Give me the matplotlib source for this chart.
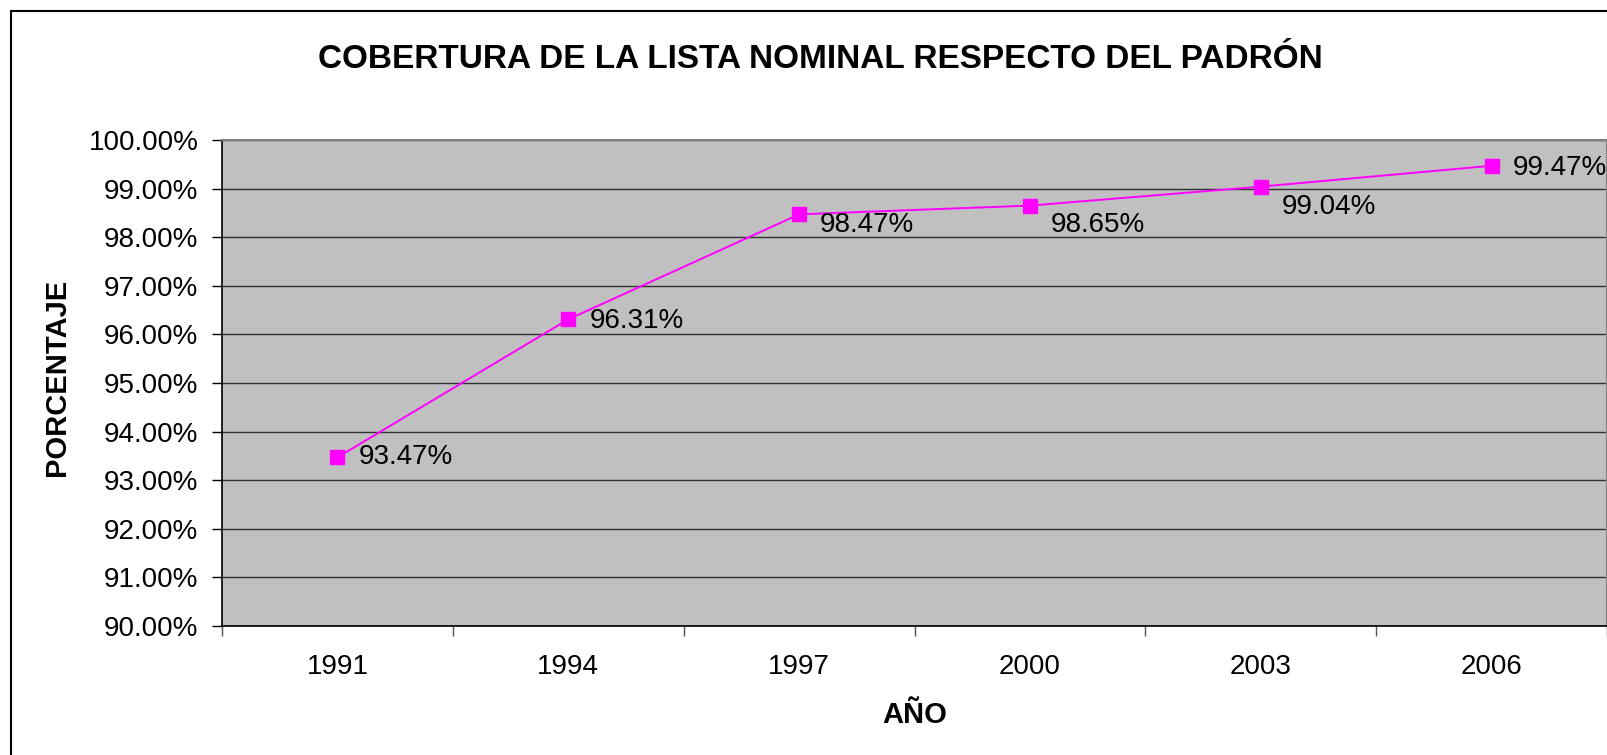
import matplotlib.pyplot as plt
from matplotlib.patches import Rectangle
from matplotlib.ticker import FixedLocator, FuncFormatter

plt.rcParams['font.family'] = ['Liberation Sans', 'DejaVu Sans']

# Data
years = ["1991", "1994", "1997", "2000", "2003", "2006"]
coverage = [93.47, 96.31, 98.47, 98.65, 99.04, 99.47]
# label offsets from marker (pixels, right / down)
label_dx = [21, 21, 21, 21, 21, 21]
label_dy = [0, -2, -11, -19, -20, -2]

fig = plt.figure(figsize=(16.08, 7.55), dpi=100)
ax = fig.add_axes([0.1381, 0.1709, 0.8613, 0.6437])

# outer chart border (right/bottom edges run past the image)
fig.patches.append(Rectangle((11 / 1608, -0.05), 1.2, 1 - 11 / 755 + 0.05,
                             transform=fig.transFigure, fill=False,
                             edgecolor='black', linewidth=1.5))

ax.set_facecolor('#C0C0C0')
x = list(range(len(years)))
ax.plot(x, coverage, color='#FF00FF', linewidth=1.4, marker='s',
        markersize=10, markerfacecolor='#FF00FF', markeredgecolor='#FF00FF',
        zorder=3)

for xi, v, dx, dy in zip(x, coverage, label_dx, label_dy):
    ax.annotate(f"{v:.2f}%", (xi, v), xytext=(dx, dy),
                textcoords='offset pixels', ha='left', va='center',
                fontsize=20, color='black', zorder=4, annotation_clip=False)

ax.set_xlim(-0.5, len(years) - 0.5)
ax.set_ylim(90, 100)
ax.set_yticks([90 + i for i in range(11)])
ax.yaxis.set_major_formatter(FuncFormatter(lambda v, p: f"{v:.2f}%"))
ax.grid(axis='y', color='#303030', linewidth=1.0)
ax.set_axisbelow(True)

# category boundaries get tick marks, labels sit at the centres
ax.xaxis.set_major_locator(FixedLocator([i - 0.5 for i in range(len(years) + 1)]))
ax.xaxis.set_major_formatter(FuncFormatter(lambda v, p: ""))
ax.xaxis.set_minor_locator(FixedLocator(x))
ax.set_xticklabels(years, minor=True)
ax.tick_params(axis='x', which='major', length=7, width=1, color='#555555', direction='out')
ax.tick_params(axis='x', which='minor', length=0, pad=20, labelsize=20)
ax.tick_params(axis='y', length=7, width=1, direction='out', pad=10, labelsize=20)

for s in ['left', 'bottom']:
    ax.spines[s].set_color('black')
    ax.spines[s].set_linewidth(1.2)
for s in ['top', 'right']:
    ax.spines[s].set_color('#808080')
    ax.spines[s].set_linewidth(1.5)

ax.set_xlabel("AÑO", fontsize=21, fontweight='bold')
ax.set_ylabel("PORCENTAJE", fontsize=21, fontweight='bold')
ax.xaxis.set_label_coords(0.5, -0.155)
ax.yaxis.set_label_coords(-0.109, 0.512)
fig.text(0.51, 0.921, "COBERTURA DE LA LISTA NOMINAL RESPECTO DEL PADRÓN",
         ha='center', va='center', fontsize=24, fontweight='bold')

fig.savefig("out.png", dpi=100)
